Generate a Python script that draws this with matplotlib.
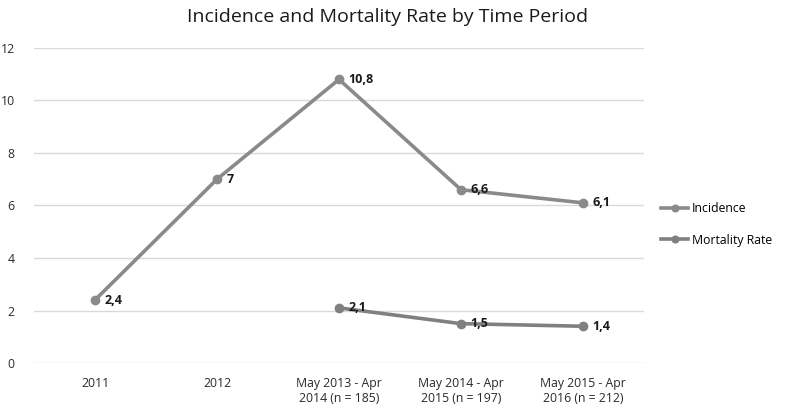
import matplotlib
matplotlib.use("Agg")
import matplotlib.pyplot as plt
import numpy as np

categories = ["2011", "2012", "May 2013 - Apr\n2014 (n = 185)", "May 2014 - Apr\n2015 (n = 197)", "May 2015 - Apr\n2016 (n = 212)"]
incidence = [2.4, 7.0, 10.8, 6.6, 6.1]
mortality = [np.nan, np.nan, 2.1, 1.5, 1.4]
inc_labels = ["2,4", "7", "10,8", "6,6", "6,1"]
mort_labels = [None, None, "2,1", "1,5", "1,4"]
yticks = [0, 2, 4, 6, 8, 10, 12]

plt.rcParams['font.family'] = ['Open Sans', 'DejaVu Sans']

fig = plt.figure(figsize=(8, 4.13), dpi=100)
ax = fig.add_axes([0.0425, 0.121, 0.7625, 0.763])

x = np.arange(len(categories))
col = '#8a8a8a'
ax.plot(x, incidence, color=col, lw=2.6, marker='o', ms=6, label='Incidence', zorder=3)
ax.plot(x, mortality, color='#808080', lw=2.6, marker='o', ms=6, label='Mortality Rate', zorder=3)

for xi, v, t in zip(x, incidence, inc_labels):
    ax.annotate(t, (xi, v), xytext=(7, 0), textcoords='offset points', ha='left', va='center',
                fontsize=9, fontweight='bold', color='#1a1a1a')
for xi, v, t in zip(x, mortality, mort_labels):
    if t is not None:
        ax.annotate(t, (xi, v), xytext=(7, 0), textcoords='offset points', ha='left', va='center',
                    fontsize=9, fontweight='bold', color='#1a1a1a')

ax.set_xlim(-0.5, len(categories) - 0.5)
ax.set_ylim(0, 12)
ax.set_yticks(yticks)
ax.set_xticks(x)
ax.set_xticklabels(categories, fontsize=8.8, color='#2a2a2a')
ax.tick_params(axis='y', labelsize=8.8, colors='#2a2a2a', length=0, pad=14)
ax.tick_params(axis='x', length=0, pad=10)
ax.grid(axis='y', color='#d9d9d9', lw=1)
ax.set_axisbelow(True)
for s in ax.spines.values():
    s.set_visible(False)

fig.text(0.485, 0.958, "Incidence and Mortality Rate by Time Period", ha='center', va='center',
         fontsize=14, color='#1a1a1a')

ax.legend(loc='center left', bbox_to_anchor=(1.01, 0.44), frameon=False, fontsize=8.8,
          handlelength=2.2, labelspacing=1.5, handletextpad=0.3, markerscale=0.8)

fig.savefig("out.png", dpi=100)
